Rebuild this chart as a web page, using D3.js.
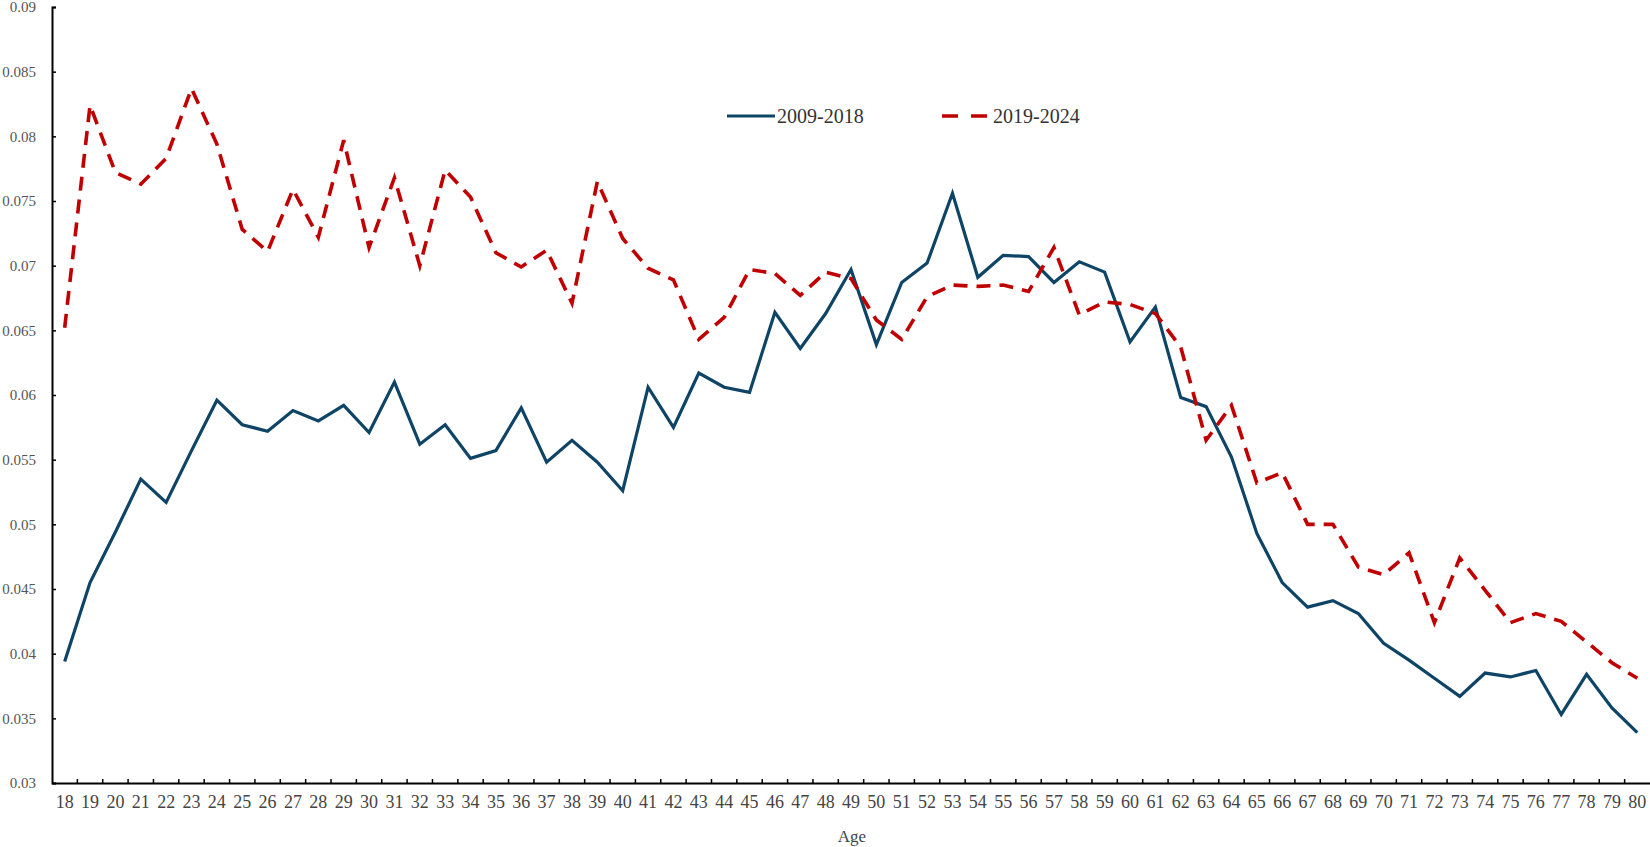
<!DOCTYPE html>
<html>
<head>
<meta charset="utf-8">
<script src="https://cdn.jsdelivr.net/npm/d3@7"></script>
<style>
  body { margin: 0; background: #fff; }
  text { font-family: "Liberation Serif", "Times New Roman", serif; }
</style>
</head>
<body>
<script>
// Ages on the x axis
const ages = d3.range(18, 81);

// 2009-2018 series
const series2009 = [
  0.0394, 0.0455, 0.0494, 0.0535, 0.0517, 0.0557, 0.0596, 0.0577, 0.0572, 0.0588,
  0.0580, 0.0592, 0.0571, 0.0610, 0.0562, 0.0577, 0.0551, 0.0557, 0.0590, 0.0548,
  0.0565, 0.0548, 0.0526, 0.0606, 0.0575, 0.0617, 0.0606, 0.0602, 0.0664, 0.0636,
  0.0663, 0.0697, 0.0639, 0.0687, 0.0702, 0.0756, 0.0691, 0.0708, 0.0707, 0.0687,
  0.0703, 0.0695, 0.0641, 0.0668, 0.0598, 0.0591, 0.0552, 0.0493, 0.0455, 0.0436,
  0.0441, 0.0431, 0.0408, 0.0395, 0.0381, 0.0367, 0.0385, 0.0382, 0.0387, 0.0353,
  0.0384, 0.0358, 0.0339
];

// 2019-2024 series
const series2019 = [
  0.0652, 0.0824, 0.0772, 0.0763, 0.0783, 0.0837, 0.0794, 0.0728, 0.0711, 0.0759,
  0.0722, 0.0797, 0.0714, 0.0768, 0.0700, 0.0774, 0.0753, 0.0710, 0.0699, 0.0712,
  0.0671, 0.0765, 0.0721, 0.0698, 0.0689, 0.0643, 0.0660, 0.0697, 0.0694, 0.0677,
  0.0695, 0.0690, 0.0658, 0.0643, 0.0676, 0.0685, 0.0684, 0.0685, 0.0680, 0.0714,
  0.0662, 0.0672, 0.0670, 0.0663, 0.0637, 0.0565, 0.0592, 0.0532, 0.0540, 0.0500,
  0.0500, 0.0467, 0.0461, 0.0478, 0.0424, 0.0474, 0.0449, 0.0424, 0.0431, 0.0425,
  0.0409, 0.0393, 0.0381
];

const yTicks = [0.03, 0.035, 0.04, 0.045, 0.05, 0.055, 0.06, 0.065, 0.07, 0.075, 0.08, 0.085, 0.09];
const yTickLabels = ['0.03', '0.035', '0.04', '0.045', '0.05', '0.055', '0.06', '0.065', '0.07', '0.075', '0.08', '0.085', '0.09'];

const seriesNames = ['2009-2018', '2019-2024'];
const seriesColors = ['#0e4466', '#c00000'];

let width = 1650,
    height = 847;

let margin = { top: 7, bottom: 64, left: 52, right: 0 };

let svg = d3.select('body')
  .append('svg')
  .attr('width', width)
  .attr('height', height);

// Scales
let xScale = d3.scaleBand()
  .domain(ages)
  .range([margin.left, width - margin.right])
  .padding(0);

let yScale = d3.scaleLinear()
  .domain([0.03, 0.09])
  .range([height - margin.bottom, margin.top]);

// Y axis (ticks point inward)
let yAxis = svg.append('g')
  .attr('transform', `translate(${margin.left}, 0)`)
  .call(d3.axisLeft(yScale)
    .tickValues(yTicks)
    .tickSize(-4)
    .tickPadding(16)
    .tickFormat((d, i) => yTickLabels[i]));

yAxis.select('.domain').attr('stroke', '#000').attr('stroke-width', 2);
yAxis.selectAll('.tick line').attr('stroke', '#000').attr('stroke-width', 1.5);
yAxis.selectAll('text')
  .style('font-size', '15px')
  .attr('fill', '#555');

// X axis: labels at band centers, ticks at band boundaries
let xAxis = svg.append('g')
  .attr('transform', `translate(0, ${height - margin.bottom})`)
  .call(d3.axisBottom(xScale).tickSize(0).tickPadding(12).tickSizeOuter(0));

xAxis.select('.domain').attr('stroke', '#000').attr('stroke-width', 2);
xAxis.selectAll('text')
  .style('font-size', '18px')
  .attr('fill', '#444');

xAxis.selectAll('.boundary')
  .data(ages.slice(1))
  .enter()
  .append('line')
  .attr('class', 'boundary')
  .attr('x1', d => xScale(d))
  .attr('x2', d => xScale(d))
  .attr('y1', 0)
  .attr('y2', -4)
  .attr('stroke', '#000')
  .attr('stroke-width', 1.5);

// Axis title
svg.append('text')
  .attr('x', 852)
  .attr('y', 842)
  .attr('text-anchor', 'middle')
  .style('font-size', '17px')
  .attr('fill', '#444')
  .text('Age');

// Lines
let line = d3.line()
  .x((d, i) => xScale(ages[i]) + xScale.bandwidth() / 2)
  .y(d => yScale(d));

svg.append('path')
  .datum(series2009)
  .attr('fill', 'none')
  .attr('stroke', seriesColors[0])
  .attr('stroke-width', 3.2)
  .attr('stroke-linejoin', 'miter')
  .attr('d', line);

svg.append('path')
  .datum(series2019)
  .attr('fill', 'none')
  .attr('stroke', seriesColors[1])
  .attr('stroke-width', 3.6)
  .attr('stroke-dasharray', '14,9')
  .attr('d', line);

// Legend
let legend = svg.append('g');

legend.append('line')
  .attr('x1', 727).attr('x2', 775)
  .attr('y1', 116).attr('y2', 116)
  .attr('stroke', seriesColors[0])
  .attr('stroke-width', 3.2);

legend.append('text')
  .attr('x', 777).attr('y', 123)
  .style('font-size', '20px')
  .attr('fill', '#333')
  .text(seriesNames[0]);

legend.append('line')
  .attr('x1', 942).attr('x2', 988)
  .attr('y1', 116).attr('y2', 116)
  .attr('stroke', seriesColors[1])
  .attr('stroke-width', 3.6)
  .attr('stroke-dasharray', '16,13');

legend.append('text')
  .attr('x', 993).attr('y', 123)
  .style('font-size', '20px')
  .attr('fill', '#333')
  .text(seriesNames[1]);
</script>
</body>
</html>
